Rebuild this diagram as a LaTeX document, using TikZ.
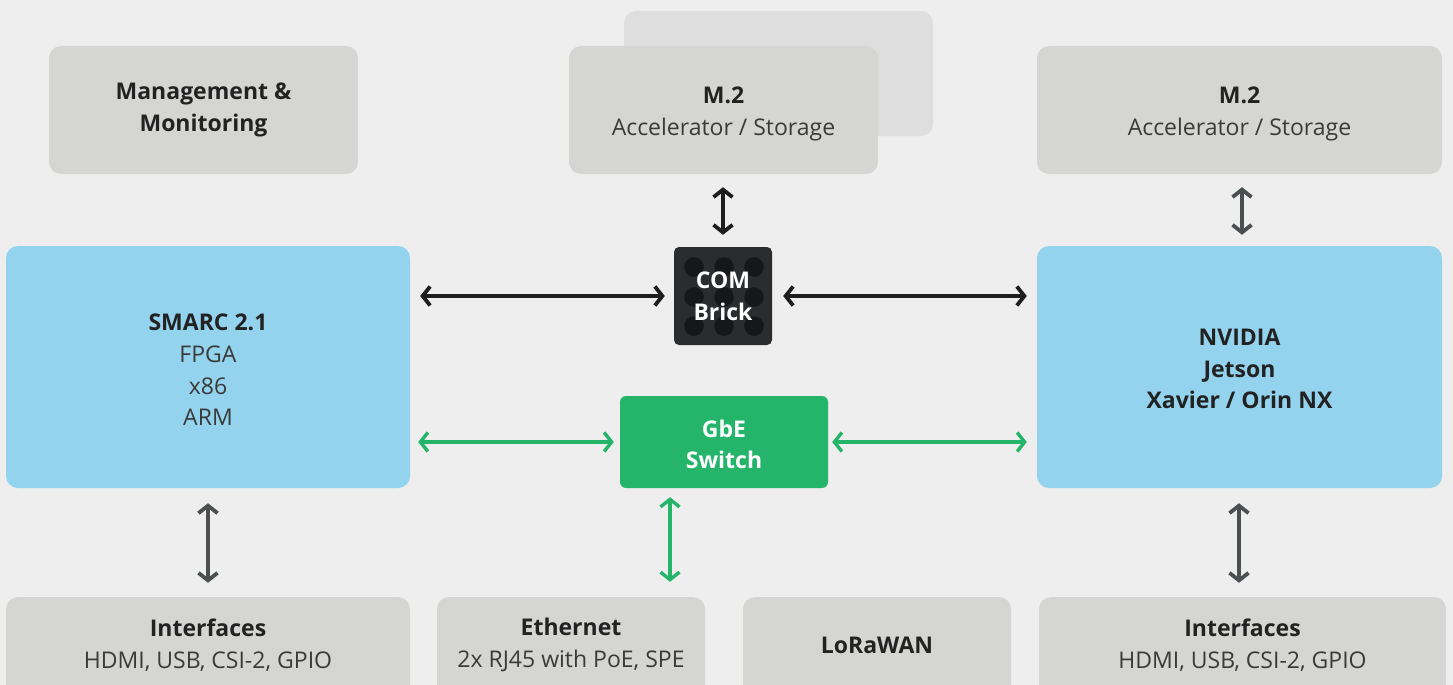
\documentclass[tikz,border=0pt]{standalone}
\usepackage{fontspec}
\setmainfont{Open Sans}
\usetikzlibrary{arrows.meta}
\definecolor{bg}{HTML}{EEEEEE}
\definecolor{boxgray}{HTML}{D5D6D4}
\definecolor{backgray}{HTML}{DEDEDE}
\definecolor{boxblue}{HTML}{94D3EE}
\definecolor{boxgreen}{HTML}{24B46A}
\definecolor{brick}{HTML}{2A2C2E}
\definecolor{hole}{HTML}{161718}
\definecolor{txt}{HTML}{222222}
\definecolor{txtl}{HTML}{3A3A3A}
\definecolor{arrblack}{HTML}{1E1E1E}
\definecolor{arrgray}{HTML}{4B4F50}
\newcommand{\bt}[1]{{\bfseries\color{txt}#1}}
\tikzset{
  base/.style={rounded corners=12pt, inner sep=0pt, align=center, font=\fontsize{23}{31.7}\selectfont, text=txtl},
  graybox/.style={base, fill=boxgray},
  bluebox/.style={base, fill=boxblue},
  greenbox/.style={base, fill=boxgreen, rounded corners=6pt, text=white},
  brickbox/.style={base, fill=brick, rounded corners=5pt, text=white},
  link/.style={line width=3.8pt, {Straight Barb[length=7.5pt,width=19pt]}-{Straight Barb[length=7.5pt,width=19pt]}},
  blk/.style={link, draw=arrblack},
  gry/.style={link, draw=arrgray},
  grn/.style={link, draw=boxgreen, line width=3.4pt},
}
\begin{document}
\begin{tikzpicture}[x=1pt,y=-1pt]
\fill[bg] (0,0) rectangle (1453,685);
\useasboundingbox (0,0) rectangle (1453,685);
\clip (0,0) rectangle (1453,685);
% top row
\node[graybox, minimum width=309pt, minimum height=128pt] (mgmt) at (203.5,110) {};
\node[base, align=center] (mgmtt) at (203.5,110) {\bt{Management \&}\\\bt{Monitoring}};
\node[base, fill=backgray, minimum width=309pt, minimum height=125pt] (m2back) at (778.5,73.5) {};
\node[graybox, minimum width=309pt, minimum height=128pt] (m2a) at (723.5,110) {};
\node[base] (m2at) at (723.5,114) {\bt{M.2}\\Accelerator / Storage};
\node[graybox, minimum width=405pt, minimum height=128pt] (m2b) at (1239.5,110) {};
\node[base] (m2bt) at (1239.5,114) {\bt{M.2}\\Accelerator / Storage};
% middle row
\node[bluebox, minimum width=404pt, minimum height=242pt] (smarc) at (208,367) {};
\node[base] (smarct) at (208,370) {\bt{SMARC 2.1}\\FPGA\\x86\\ARM};
\node[bluebox, minimum width=405pt, minimum height=242pt] (nvidia) at (1239.5,367) {};
\node[base] (nvidiat) at (1239.5,369) {\bt{NVIDIA}\\\bt{Jetson}\\\bt{Xavier / Orin NX}};
\node[brickbox, minimum width=98pt, minimum height=98pt] (com) at (723,296) {};
\foreach \i in {694,724,754}{\foreach \j in {267,297,326}{\fill[hole] (\i,\j) circle (9.8pt);}}
\node[base, text=white] (comtxt) at (723,296.5) {\bfseries COM\\\bfseries Brick};
\node[greenbox, minimum width=208pt, minimum height=92pt] (sw) at (724,442) {};
\node[base, text=white] (swt) at (724,444.5) {\bfseries GbE\\\bfseries Switch};
% bottom row
\node[graybox, minimum width=404pt, minimum height=100pt] (ifl) at (208,647) {};
\node[base] (iflt) at (208,645) {\bt{Interfaces}\\HDMI, USB, CSI-2, GPIO};
\node[graybox, minimum width=268pt, minimum height=100pt] (eth) at (571,647) {};
\node[base] (etht) at (571,645) {\bt{Ethernet}\\2x RJ45 with PoE, SPE};
\node[graybox, minimum width=268pt, minimum height=100pt] (lora) at (877,647) {};
\node[base] (lorat) at (877,645) {\bt{LoRaWAN}};
\node[graybox, minimum width=407pt, minimum height=100pt] (ifr) at (1242.5,647) {};
\node[base] (ifrt) at (1242.5,645) {\bt{Interfaces}\\HDMI, USB, CSI-2, GPIO};
% connectors
\draw[blk, shorten <=10pt, shorten >=9pt] (smarc.east |- com.west) -- (com.west);
\draw[blk, shorten <=11pt, shorten >=10pt] (com.east) -- (nvidia.west |- com.east);
\draw[blk, shorten <=13pt, shorten >=12pt] (m2a.south -| com.north) -- (com.north);
\draw[gry, shorten <=13pt, shorten >=11pt] (m2b.south -| 1242,0) -- (nvidia.north -| 1242,0);
\draw[grn, shorten <=8pt, shorten >=6pt] (smarc.east |- sw.west) -- (sw.west);
\draw[grn, shorten <=4pt, shorten >=10pt] (sw.east) -- (nvidia.west |- sw.east);
\draw[grn, shorten <=9pt, shorten >=15pt] (sw.south -| 670,0) -- (eth.north -| 670,0);
\draw[gry, shorten <=15pt, shorten >=14pt] (smarc.south) -- (ifl.north -| smarc.south);
\draw[gry, shorten <=15pt, shorten >=14pt] (nvidia.south -| 1239,0) -- (ifr.north -| 1239,0);
\end{tikzpicture}
\end{document}
